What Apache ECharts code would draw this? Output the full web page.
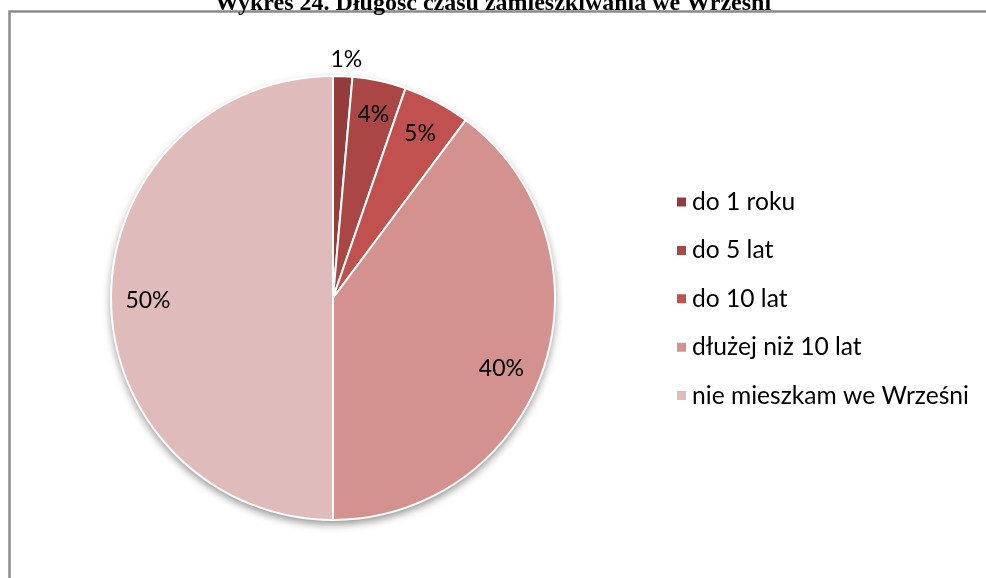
<!DOCTYPE html>
<html><head><meta charset="utf-8">
<script src="https://cdn.jsdelivr.net/npm/echarts@6/dist/echarts.min.js"></script>
<style>html,body{margin:0;padding:0;background:#fff}#c{width:986px;height:578px}</style>
</head><body><div id="c"></div>
<script>
const titleText = 'Wykres 24. Długość czasu zamieszkiwania we Wrześni';
const categories = ['do 1 roku', 'do 5 lat', 'do 10 lat', 'dłużej niż 10 lat', 'nie mieszkam we Wrześni'];
const values = [1.4, 3.9, 4.9, 39.8, 50.0];
const colors = ['#943c3b', '#aa4745', '#c0514f', '#d39190', '#e0bbbb'];

const total = values.reduce((a, b) => a + b, 0);
const data = categories.map((n, i) => ({ name: n, value: values[i], itemStyle: { color: colors[i] } }));
const labelFont = 'Lato, "Open Sans", sans-serif';
const labelShift = [{ dx: 5, dy: -51 }, { dx: 1, dy: 0 }, { dx: -1, dy: 2 }, { dx: -10, dy: 11 }, { dx: 3, dy: 3 }];

const chart = echarts.init(document.getElementById('c'), null, { renderer: 'canvas' });
chart.setOption({
  animation: false,
  backgroundColor: '#fff',
  title: {
    text: titleText, left: 'center', top: -13,
    textStyle: { fontFamily: '"Liberation Serif", "DejaVu Serif", serif', fontWeight: 'bold', fontSize: 24, color: '#000' }
  },
  graphic: [{
    type: 'rect', silent: true, z: -1,
    shape: { x: 9.5, y: 11.5, width: 1100, height: 700 },
    style: { fill: 'none', stroke: '#8a8a8a', lineWidth: 2.5 }
  }],
  legend: {
    orient: 'vertical', left: 670, top: 184,
    itemWidth: 11, itemHeight: 11, itemGap: 22.4, icon: 'rect',
    data: categories,
    textStyle: { fontFamily: labelFont, fontSize: 24.6, lineHeight: 26, color: '#000', padding: [0, 0, 0, 0] }
  },
  series: [
    {
      type: 'pie', silent: true, center: [333, 298], radius: [0, 222], z: 1,
      data: [{ name: '_bg', value: total }],
      label: { show: false }, labelLine: { show: false },
      itemStyle: { color: '#fff', shadowBlur: 9, shadowOffsetY: 4, shadowColor: 'rgba(0,0,0,0.45)' },
      legendHoverLink: false
    },
    {
      type: 'pie', center: [333, 298], radius: [0, 222], startAngle: 90, clockwise: true, z: 2,
      data: data,
      label: { show: false }, labelLine: { show: false },
      itemStyle: { borderColor: '#fff', borderWidth: 2 }
    },
    {
      type: 'pie', silent: true, center: [333, 298], radius: [148, 222], startAngle: 90, clockwise: true, z: 3,
      data: categories.map((n, i) => ({ name: n, value: values[i] })),
      itemStyle: { color: 'rgba(0,0,0,0)', borderWidth: 0 },
      label: {
        show: true, position: 'inside',
        formatter: p => Math.round(p.value) + '%',
        fontFamily: labelFont, fontSize: 23, color: '#000'
      },
      labelLine: { show: false },
      labelLayout: p => labelShift[p.dataIndex],
      legendHoverLink: false
    }
  ]
});
</script></body></html>
